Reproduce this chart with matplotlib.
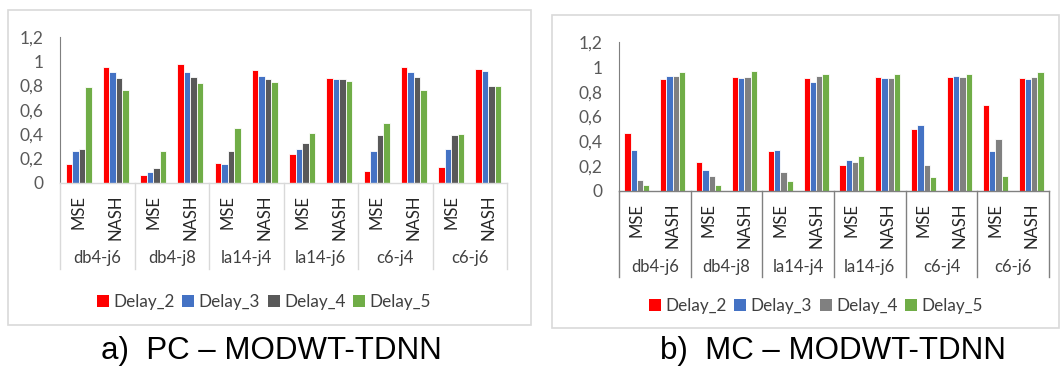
import matplotlib
matplotlib.use("Agg")
import matplotlib.pyplot as plt
import matplotlib.transforms as mtransforms
from matplotlib.patches import Rectangle, Patch
from matplotlib.lines import Line2D
import numpy as np

plt.rcParams['font.family'] = ['Lato', 'DejaVu Sans']

groups = ['db4-j6', 'db4-j8', 'la14-j4', 'la14-j6', 'c6-j4', 'c6-j6']
metrics = ['MSE', 'NASH']
series = ['Delay_2', 'Delay_3', 'Delay_4', 'Delay_5']
yticks = [0, 0.2, 0.4, 0.6, 0.8, 1.0, 1.2]
ytick_labels = ['0', '0,2', '0,4', '0,6', '0,8', '1', '1,2']

# PC – MODWT-TDNN, order: MSE, NASH per wavelet config
pc_delay2 = [0.15, 0.95, 0.06, 0.98, 0.16, 0.93, 0.24, 0.86, 0.10, 0.95, 0.13, 0.94]
pc_delay3 = [0.26, 0.91, 0.09, 0.91, 0.15, 0.88, 0.28, 0.85, 0.26, 0.91, 0.28, 0.92]
pc_delay4 = [0.28, 0.86, 0.12, 0.87, 0.26, 0.85, 0.33, 0.85, 0.39, 0.87, 0.39, 0.80]
pc_delay5 = [0.79, 0.76, 0.26, 0.82, 0.45, 0.83, 0.41, 0.84, 0.49, 0.76, 0.40, 0.80]

# MC – MODWT-TDNN
mc_delay2 = [0.47, 0.90, 0.23, 0.92, 0.32, 0.91, 0.21, 0.92, 0.50, 0.92, 0.69, 0.91]
mc_delay3 = [0.33, 0.93, 0.17, 0.91, 0.33, 0.88, 0.25, 0.91, 0.53, 0.93, 0.32, 0.90]
mc_delay4 = [0.09, 0.93, 0.12, 0.92, 0.15, 0.93, 0.23, 0.91, 0.21, 0.92, 0.42, 0.92]
mc_delay5 = [0.05, 0.96, 0.05, 0.97, 0.08, 0.94, 0.28, 0.94, 0.11, 0.94, 0.12, 0.96]

W, H = 1060, 367
fig = plt.figure(figsize=(W / 100, H / 100), dpi=100)
fig.patch.set_facecolor('white')

TXT = '#595959'


def fx(px):
    return px / W


def fy(py):
    return 1 - py / H


def panel(ax_box, frame, values, colors, line_col, sep_bottom, metric_top,
          group_y, legend_xy, title, title_xy):
    x0, y_bot, x1, y_top = ax_box
    # chart-area frame
    fx0, fy0, fx1, fy1 = frame
    fig.patches.append(Rectangle((fx(fx0), fy(fy1)), fx(fx1 - fx0), fy(fy0) - fy(fy1),
                                 transform=fig.transFigure, fill=False,
                                 edgecolor='#D9D9D9', linewidth=1.2, zorder=0))
    ax = fig.add_axes([fx(x0), fy(y_bot), fx(x1 - x0), fy(y_top) - fy(y_bot)])
    n = len(groups) * len(metrics)
    x = np.arange(n)
    bw = 0.175
    offs = (np.arange(len(series)) - 1.5) * bw
    for vals, c, o in zip(values, colors, offs):
        ax.bar(x + o, vals, width=bw, color=c, edgecolor='white', linewidth=0.6, zorder=2)
    ax.set_xlim(-0.5, n - 0.5)
    ax.set_ylim(0, 1.2)
    ax.set_yticks(yticks)
    ax.set_yticklabels(ytick_labels)
    ax.tick_params(axis='y', length=0, labelsize=12.5, labelcolor=TXT, pad=12)
    ax.set_xticks([])
    for s in ['top', 'right']:
        ax.spines[s].set_visible(False)
    ax.spines['left'].set_color('#7F7F7F')
    ax.spines['bottom'].set_color(line_col)
    ax.spines['bottom'].set_linewidth(1.0)

    tr = mtransforms.blended_transform_factory(ax.transData, fig.transFigure)
    # group separators
    for b in np.arange(0, n + 1, 2) - 0.5:
        fig.lines.append(Line2D([b, b], [fy(y_bot), fy(sep_bottom)], transform=tr,
                                color=line_col, linewidth=1.0))
    for i in range(n):
        ax.text(i, fy(metric_top), metrics[i % 2], transform=tr, rotation=90,
                ha='center', va='top', fontsize=12, color='#262626')
    for g, name in enumerate(groups):
        ax.text(2 * g + 0.5, fy(group_y), name, transform=tr, ha='center',
                va='center', fontsize=12, color='#404040')
    handles = [Patch(facecolor=c, edgecolor='none') for c in colors]
    fig.legend(handles, series, loc='center', bbox_to_anchor=(fx(legend_xy[0]), fy(legend_xy[1])),
               ncol=4, frameon=False, fontsize=12.3, handlelength=0.7, handleheight=0.7,
               handletextpad=0.25, columnspacing=0.45, labelcolor='#404040')
    fig.text(fx(title_xy[0]), fy(title_xy[1]), title, ha='center', va='center',
             fontsize=22.5, family=['Liberation Sans', 'DejaVu Sans'], color='black')
    return ax


panel((60, 182.7, 507, 37), (8, 10, 531, 325),
      [pc_delay2, pc_delay3, pc_delay4, pc_delay5],
      ['#FF0000', '#4472C4', '#595959', '#70AD47'], '#D9D9D9',
      269, 195, 258, (264, 302), 'a)  PC \u2013 MODWT-TDNN', (271, 351))

panel((619, 190.7, 1049, 42.3), (552, 15, 1059, 328),
      [mc_delay2, mc_delay3, mc_delay4, mc_delay5],
      ['#FF0000', '#4472C4', '#808080', '#70AD47'], '#808080',
      277, 203, 267, (816, 306), 'b)  MC \u2013 MODWT-TDNN', (833, 351))

fig.savefig('out.png', dpi=100, facecolor='white')
